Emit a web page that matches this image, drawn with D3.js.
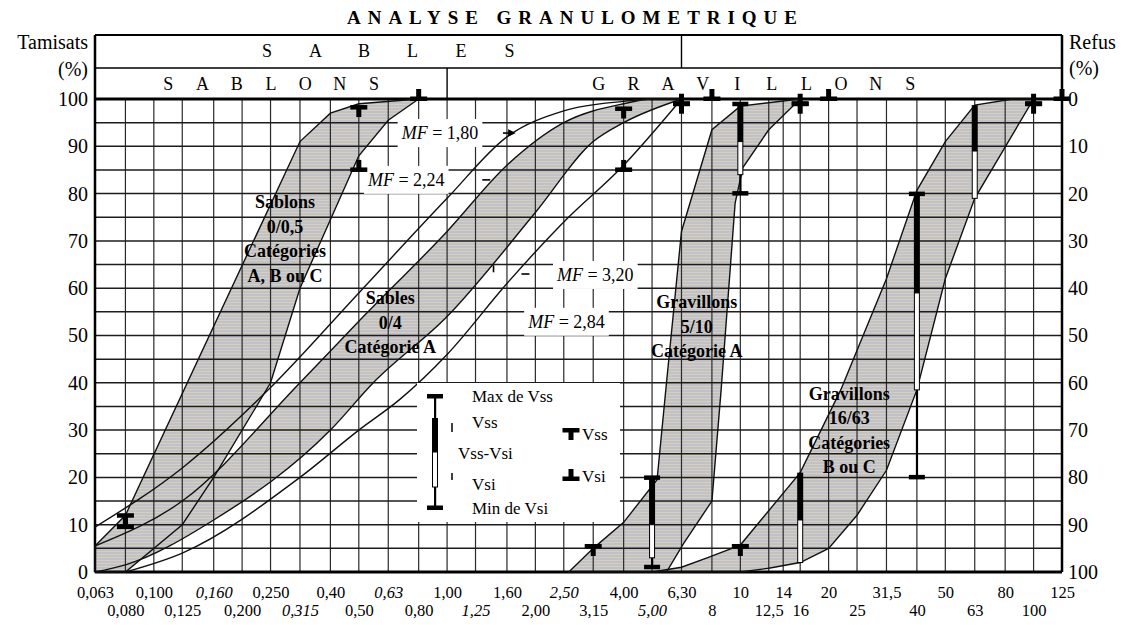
<!DOCTYPE html>
<html>
<head>
<meta charset="utf-8">
<script src="https://cdn.jsdelivr.net/npm/d3@7/dist/d3.min.js"></script>
<style>
  body { margin: 0; background: #fff; }
  svg { display: block; font-family: "Liberation Serif", "DejaVu Serif", serif; }
</style>
</head>
<body>
<svg id="chart" width="1128" height="625"></svg>
<script>
// sieve openings (mm), one vertical grid line each
const sieves = [0.063, 0.08, 0.1, 0.125, 0.16, 0.2, 0.25, 0.315, 0.4, 0.5, 0.63, 0.8, 1, 1.25, 1.6, 2, 2.5, 3.15, 4, 5, 6.3, 8, 10, 12.5, 14, 16, 20, 25, 31.5, 40, 50, 63, 80, 100, 125];
const sieveLabels = ["0,063", "0,080", "0,100", "0,125", "0,160", "0,200", "0,250", "0,315", "0,40", "0,50", "0,63", "0,80", "1,00", "1,25", "1,60", "2,00", "2,50", "3,15", "4,00", "5,00", "6,30", "8", "10", "12,5", "14", "16", "20", "25", "31,5", "40", "50", "63", "80", "100", "125"];
const italicLabels = ["0,160", "0,315", "0,63", "1,25", "2,50", "5,00"];
const pctTicks = [0, 10, 20, 30, 40, 50, 60, 70, 80, 90, 100];

// fuseau Sablons 0/0,5 : [sieve mm, % passing]
const sablonsFine = [[0.063, 5.5], [0.08, 12], [0.315, 91], [0.4, 97], [0.5, 99], [0.8, 100]];
const sablonsCoarse = [[0.8, 100], [0.63, 95.5], [0.5, 88], [0.315, 60], [0.25, 40], [0.16, 20], [0.125, 10], [0.08, 0], [0.063, 0]];

// sables 0/4 : module de finesse curves
const mf180 = [[0.063, 9.5], [0.125, 22], [0.25, 39], [0.5, 59], [1, 79], [1.6, 92], [2.5, 97.5], [4, 99.5], [5, 100], [6.3, 100]];
const mf224 = [[0.063, 5.5], [0.125, 15], [0.315, 40], [0.5, 53], [1, 72], [1.6, 86], [2.5, 95], [4, 99], [5, 100], [6.3, 100]];
const mf284 = [[0.063, 0], [0.08, 1.5], [0.16, 11], [0.4, 30], [0.56, 40], [1, 54], [2, 76], [3.15, 91], [4, 95], [6.3, 100]];
const mf320 = [[0.08, 0], [0.125, 4], [0.315, 20], [0.5, 30], [0.69, 36.5], [1, 46], [1.6, 61], [2.5, 74], [4, 86], [6.3, 100]];

// fuseau Gravillons 5/10
const g510Fine = [[2.6, 0], [3.15, 5], [4, 10.5], [5.2, 19.5], [5.6, 40], [6.3, 72], [8, 93.5], [10, 98.5], [16, 100]];
const g510Coarse = [[16, 100], [12.5, 93.5], [10.2, 85.5], [9.6, 78], [8.6, 38.5], [8, 15], [6.4, 6], [5.6, 0]];

// fuseau Gravillons 16/63
const g1663Fine = [[5, 0], [6.3, 1], [7.7, 3], [10, 5.7], [16, 21], [22, 38.5], [31.5, 62], [40, 80.7], [50, 91], [63, 98.7], [85, 100], [100, 100]];
const g1663Coarse = [[100, 100], [63, 79], [50, 62], [40, 38.5], [31.5, 21.5], [25, 12], [20, 5], [16, 2], [12.5, 0.8], [10, 0]];

// single markers: Vss (T) and Vsi (inverted T)
const vssMarks = [[0.08, 12], [0.5, 98.3], [4, 98], [6.3, 99], [16, 99], [100, 99], [3.15, 5.5], [10, 5.5]];
const vsiMarks = [[0.08, 9.5], [0.5, 85], [0.8, 100], [4, 85], [6.3, 99], [8, 100], [16, 99], [20, 100], [100, 99], [125, 100]];

// tolerance bars: [sieve, max de Vss, end of Vss zone, end of Vss-Vsi zone, min de Vsi]
const toleranceBars = [[10, 99, 91, 84, 80], [40, 80, 59, 38.5, 20], [63, 98.7, 89, 79, 79], [5, 20, 10, 3, 1], [16, 21, 11, 2, 2]];
const barCaps = [true, true, false, true, false];

// MF labels: [text, sieve at text start, % at text middle]
const mfLabels = [["1,80", 0.70, 92.8], ["2,24", 0.537, 82.9], ["3,20", 2.37, 62.8], ["2,84", 1.89, 52.9]];
// small pointers next to the MF labels
const mfPointers = [[1.6, 92.8, "arrow"], [1.36, 82.9, "h"], [1.44, 64, "v"], [1.85, 63, "h"]];

// band names: [lines, sieve at centre, % of first line]
const bandLabels = [
  [["Sablons", "0/0,5", "Catégories", "A, B ou C"], 0.28, 78.2],
  [["Sables", "0/4", "Catégorie A"], 0.64, 57.9],
  [["Gravillons", "5/10", "Catégorie A"], 7.1, 57.1],
  [["Gravillons", "16/63", "Catégories", "B ou C"], 23.5, 37.8]
];

const serif = '"Liberation Serif", "DejaVu Serif", serif';
const svg = d3.select('#chart');
const plotL = 95, plotR = 1062, plotT = 99, plotB = 572;

const x = d3.scaleLog().domain([0.063, 125]).range([plotL, plotR]);
const y = d3.scaleLinear().domain([0, 100]).range([plotB, plotT]);
const yRefus = d3.scaleLinear().domain([100, 0]).range([plotB, plotT]);

// striped grey like the printed tint
const defs = svg.append('defs');
const pat = defs.append('pattern').attr('id', 'tint')
  .attr('width', 4).attr('height', 3).attr('patternUnits', 'userSpaceOnUse');
pat.append('rect').attr('width', 4).attr('height', 3).attr('fill', '#c3c1c8');
pat.append('rect').attr('y', 2).attr('width', 4).attr('height', 1).attr('fill', '#d3d1bd');

svg.append('rect').attr('width', 1128).attr('height', 625).attr('fill', '#fff');

let line = d3.line().x(d => x(d[0])).y(d => y(d[1]));
let smooth = d3.line().x(d => x(d[0])).y(d => y(d[1])).curve(d3.curveMonotoneX);

// ---- shaded bands
let bands = svg.append('g');
bands.append('path').attr('d', line(sablonsFine.concat(sablonsCoarse)) + 'Z').attr('fill', 'url(#tint)');
bands.append('path').attr('d', line(g510Fine.concat(g510Coarse)) + 'Z').attr('fill', 'url(#tint)');
bands.append('path').attr('d', line(g1663Fine.concat(g1663Coarse)) + 'Z').attr('fill', 'url(#tint)');

// sand band = under MF 2,24 and above MF 2,84
defs.append('clipPath').attr('id', 'aboveMf284').append('path')
  .attr('d', d3.area().x(d => x(d[0])).y0(y(100)).y1(d => y(d[1])).curve(d3.curveMonotoneX)(mf284));
bands.append('path')
  .attr('clip-path', 'url(#aboveMf284)')
  .attr('d', d3.area().x(d => x(d[0])).y0(y(0)).y1(d => y(d[1])).curve(d3.curveMonotoneX)(mf224))
  .attr('fill', 'url(#tint)');

// ---- grid
let grid = svg.append('g');
grid.selectAll('.vline').data(sieves).enter().append('line')
  .attr('x1', d => x(d)).attr('x2', d => x(d))
  .attr('y1', plotT).attr('y2', plotB)
  .attr('stroke', '#2a2a2a').attr('stroke-width', 1.2);
grid.selectAll('.hline').data(d3.range(5, 100, 5)).enter().append('line')
  .attr('x1', plotL).attr('x2', plotR)
  .attr('y1', d => y(d)).attr('y2', d => y(d))
  .attr('stroke', '#1c1c1c').attr('stroke-width', 1.5);

// frame and header table
let frame = svg.append('g').attr('stroke', '#000').attr('fill', 'none');
frame.append('line').attr('x1', plotL).attr('x2', plotR).attr('y1', 35).attr('y2', 35).attr('stroke-width', 2.2);
frame.append('line').attr('x1', plotL).attr('x2', plotR).attr('y1', 68).attr('y2', 68).attr('stroke-width', 1.6);
frame.append('line').attr('x1', plotL).attr('x2', plotR).attr('y1', y(100)).attr('y2', y(100)).attr('stroke-width', 2.8);
frame.append('line').attr('x1', plotL).attr('x2', plotR).attr('y1', y(0)).attr('y2', y(0)).attr('stroke-width', 3);
frame.append('line').attr('x1', plotL).attr('x2', plotL).attr('y1', 35).attr('y2', plotB).attr('stroke-width', 2.5);
frame.append('line').attr('x1', plotR).attr('x2', plotR).attr('y1', 35).attr('y2', plotB).attr('stroke-width', 2.5);
frame.append('line').attr('x1', x(6.3)).attr('x2', x(6.3)).attr('y1', 35).attr('y2', 68).attr('stroke-width', 1.4);
frame.append('line').attr('x1', x(1)).attr('x2', x(1)).attr('y1', 68).attr('y2', y(100)).attr('stroke-width', 1.4);

// spaced capitals in the header
let spaced = function(word, cx, cy, step) {
  let chars = word.split('');
  svg.append('g').selectAll('text').data(chars).enter().append('text')
    .attr('x', (d, i) => cx + (i - (chars.length - 1) / 2) * step)
    .attr('y', cy).attr('dy', '0.35em')
    .attr('text-anchor', 'middle').attr('font-size', 18).attr('font-family', serif)
    .text(d => d);
};
spaced('SABLES', (x(0.063) + x(6.3)) / 2, 51, 48.5);
spaced('SABLONS', (x(0.063) + x(1)) / 2, 84, 34.3);
spaced('GRAVILLONS', (x(1) + x(125)) / 2, 84, 34.6);

// ---- white boxes behind MF labels
let mfG = svg.append('g');
mfLabels.forEach(function(m) {
  let t = mfG.append('text').attr('x', x(m[1])).attr('y', y(m[2])).attr('dy', '0.35em')
    .attr('font-size', 18).attr('font-family', serif);
  t.append('tspan').attr('font-style', 'italic').text('MF');
  t.append('tspan').text(' = ' + m[0]);
  let bb = t.node().getBBox();
  mfG.insert('rect', 'text')
    .attr('x', bb.x - 3).attr('y', y(m[2]) - 14)
    .attr('width', bb.width + 7).attr('height', 28).attr('fill', '#fff');
});

// ---- outlines and MF curves
let outl = svg.append('g').attr('fill', 'none').attr('stroke', '#111').attr('stroke-width', 1.4);
outl.append('path').attr('d', line(sablonsFine.concat(sablonsCoarse)) + 'Z');
outl.append('path').attr('d', line(g510Fine.concat(g510Coarse)) + 'Z');
outl.append('path').attr('d', line(g1663Fine.concat(g1663Coarse)) + 'Z');
[mf180, mf224, mf284, mf320].forEach(c => outl.append('path').attr('d', smooth(c)));

// pointers near the MF labels
let ptr = svg.append('g').attr('stroke', '#000').attr('stroke-width', 1.6);
mfPointers.forEach(function(p) {
  let px = x(p[0]), py = y(p[1]);
  if (p[2] == 'v') ptr.append('line').attr('x1', px).attr('x2', px).attr('y1', py - 4).attr('y2', py + 3);
  else ptr.append('line').attr('x1', px - 4).attr('x2', px + 4).attr('y1', py).attr('y2', py);
  if (p[2] == 'arrow') ptr.append('path').attr('d', `M${px + 2},${py - 2.5}L${px + 7},${py}L${px + 2},${py + 2.5}Z`).attr('fill', '#000');
});

// ---- Vss / Vsi markers
let marks = svg.append('g').attr('fill', '#000');
let drawT = function(g, cx, cy) {
  g.append('rect').attr('x', cx - 8.5).attr('y', cy - 2).attr('width', 17).attr('height', 4.5);
  g.append('rect').attr('x', cx - 2.5).attr('y', cy).attr('width', 5).attr('height', 10);
};
let drawL = function(g, cx, cy) {
  g.append('rect').attr('x', cx - 8.5).attr('y', cy - 2.5).attr('width', 17).attr('height', 4.5);
  g.append('rect').attr('x', cx - 2.5).attr('y', cy - 10).attr('width', 5).attr('height', 10);
};
vssMarks.forEach(m => drawT(marks, x(m[0]), y(m[1])));
vsiMarks.forEach(m => drawL(marks, x(m[0]), y(m[1])));

// composite bar, pixel coords: thin stem, black Vss zone, white Vss-Vsi zone, caps
let drawBar = function(g, cx, yMax, yBlack, yVss, yVsi, yMin, caps) {
  g.append('rect').attr('x', cx - 1).attr('y', yMax).attr('width', 2.2).attr('height', yMin - yMax).attr('fill', '#000');
  g.append('rect').attr('x', cx - 3).attr('y', yBlack).attr('width', 6).attr('height', yVss - yBlack).attr('fill', '#000');
  g.append('rect').attr('x', cx - 2.5).attr('y', yVss).attr('width', 5).attr('height', yVsi - yVss)
    .attr('fill', '#fff').attr('stroke', '#000').attr('stroke-width', 1);
  if (caps) {
    g.append('rect').attr('x', cx - 8).attr('y', yMax - 2).attr('width', 16).attr('height', 4.5).attr('fill', '#000');
    g.append('rect').attr('x', cx - 8).attr('y', yMin - 2.5).attr('width', 16).attr('height', 4.5).attr('fill', '#000');
  }
};
toleranceBars.forEach((b, i) => drawBar(marks, x(b[0]), y(b[1]), y(b[1]), y(b[2]), y(b[3]), y(b[4]), barCaps[i]));

// ---- band names
bandLabels.forEach(function(b) {
  svg.append('g').selectAll('text').data(b[0]).enter().append('text')
    .attr('x', x(b[1])).attr('y', (d, i) => y(b[2]) + i * 24.5).attr('dy', '0.35em')
    .attr('text-anchor', 'middle').attr('font-size', 18).attr('font-weight', 'bold')
    .attr('font-family', serif).text(d => d);
});

// ---- legend
let leg = svg.append('g');
leg.append('rect').attr('x', 417).attr('y', 383).attr('width', 203).attr('height', 139).attr('fill', '#fff');
drawBar(leg, 435, 396, 418, 452, 487, 508, true);
leg.append('line').attr('x1', 452).attr('x2', 452).attr('y1', 423).attr('y2', 432).attr('stroke', '#000').attr('stroke-width', 1.5);
leg.append('line').attr('x1', 452).attr('x2', 452).attr('y1', 473).attr('y2', 480).attr('stroke', '#000').attr('stroke-width', 1.5);
drawT(leg, 571, 430);
drawL(leg, 571, 479);
const legendTexts = [["Max de Vss", 472, 396], ["Vss", 472, 422], ["Vss-Vsi", 458, 453], ["Vsi", 472, 484], ["Min de Vsi", 472, 508], ["Vss", 582, 434], ["Vsi", 582, 476]];
leg.selectAll('text').data(legendTexts).enter().append('text')
  .attr('x', d => d[1]).attr('y', d => d[2]).attr('dy', '0.35em')
  .attr('font-size', 17).attr('font-family', serif).text(d => d[0]);

// ---- axes
let axL = svg.append('g').attr('transform', `translate(${plotL},0)`)
  .call(d3.axisLeft(y).tickValues(pctTicks).tickSize(0).tickPadding(7));
axL.select('.domain').remove();
axL.attr('font-size', 20).attr('font-family', serif);

let axR = svg.append('g').attr('transform', `translate(${plotR},0)`)
  .call(d3.axisRight(yRefus).tickValues(pctTicks).tickSize(0).tickPadding(6));
axR.select('.domain').remove();
axR.attr('font-size', 20).attr('font-family', serif);

let labelOf = d => sieveLabels[sieves.indexOf(d)];
let row1 = svg.append('g').attr('transform', `translate(0,${plotB})`)
  .call(d3.axisBottom(x).tickValues(sieves.filter((d, i) => i % 2 == 0)).tickFormat(labelOf).tickSize(0).tickPadding(14));
let row2 = svg.append('g').attr('transform', `translate(0,${plotB})`)
  .call(d3.axisBottom(x).tickValues(sieves.filter((d, i) => i % 2 == 1)).tickFormat(labelOf).tickSize(0).tickPadding(32));
[row1, row2].forEach(function(r) {
  r.select('.domain').remove();
  r.attr('font-size', 16.5).attr('font-family', serif);
  r.selectAll('text').attr('font-style', d => italicLabels.includes(labelOf(d)) ? 'italic' : null);
});

// ---- titles
svg.append('text').attr('x', 572).attr('y', 24).attr('text-anchor', 'middle')
  .attr('font-size', 19).attr('font-weight', 'bold').attr('font-family', serif)
  .attr('textLength', 450).attr('lengthAdjust', 'spacing')
  .text('ANALYSE GRANULOMETRIQUE');
svg.append('text').attr('x', 88).attr('y', 49).attr('text-anchor', 'end').attr('font-size', 20).attr('font-family', serif).text('Tamisats');
svg.append('text').attr('x', 88).attr('y', 76).attr('text-anchor', 'end').attr('font-size', 20).attr('font-family', serif).text('(%)');
svg.append('text').attr('x', 1069).attr('y', 49).attr('font-size', 20).attr('font-family', serif).text('Refus');
svg.append('text').attr('x', 1069).attr('y', 75).attr('font-size', 20).attr('font-family', serif).text('(%)');
</script>
</body>
</html>
